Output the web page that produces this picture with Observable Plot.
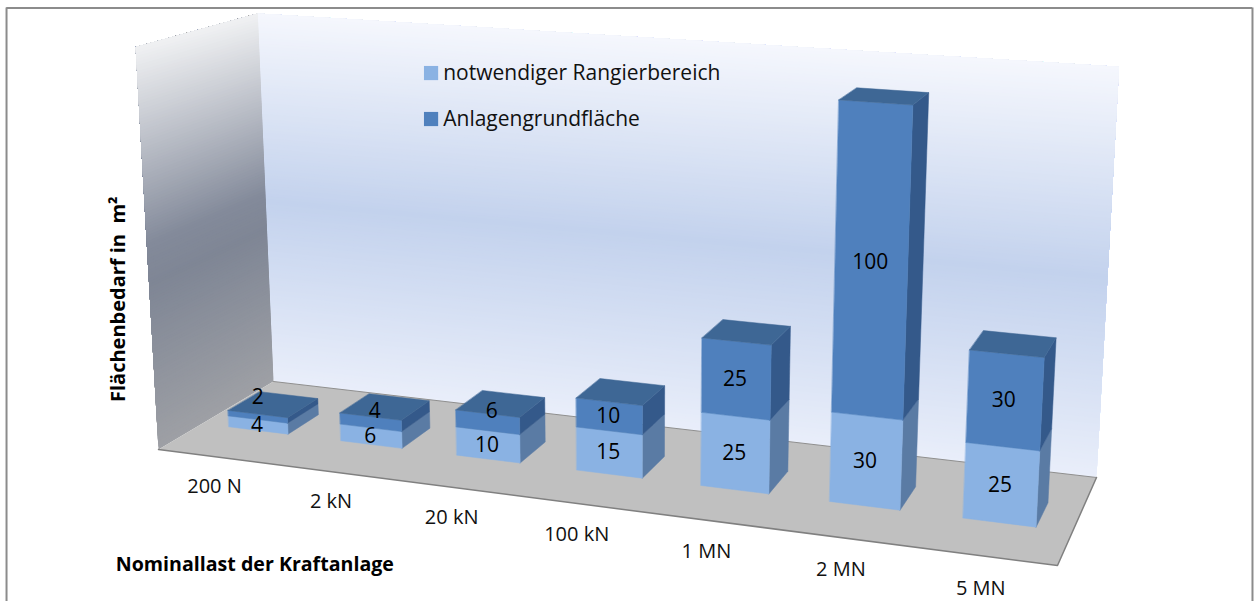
<!DOCTYPE html>
<html><head><meta charset="utf-8">
<script src="https://cdn.jsdelivr.net/npm/d3@7"></script>
<script src="https://cdn.jsdelivr.net/npm/@observablehq/plot@0.6"></script>
<style>html,body{margin:0;padding:0;background:#fff;overflow:hidden}svg{display:block}</style>
</head><body><div id="chart"></div>
<script>
const categories = ["200 N","2 kN","20 kN","100 kN","1 MN","2 MN","5 MN"];
const rangierbereich = [4,6,10,15,25,30,25];
const grundflaeche = [2,4,6,10,25,100,30];
const seriesNames = ["notwendiger Rangierbereich","Anlagengrundfläche"];
const axisMax = 137;

const W = 1256, H = 601;
const FONT = "'Open Sans', Lato, sans-serif";
// camera: floor corners (front-left, front-right, back-right, back-left), vertical vanishing point, wall top
const view = {floor:[[158,449],[1057,565],[1096,477],[273,381]], vanish:[636,8860], wallTopY:13};
const [p0,p1,p2,p3] = view.floor;
const den = (p1[0]-p2[0])*(p3[1]-p2[1])-(p3[0]-p2[0])*(p1[1]-p2[1]);
const sx = p0[0]-p1[0]+p2[0]-p3[0], sy = p0[1]-p1[1]+p2[1]-p3[1];
const g = (sx*(p3[1]-p2[1])-(p3[0]-p2[0])*sy)/den;
const h = ((p1[0]-p2[0])*sy-sx*(p1[1]-p2[1]))/den;
const a = p1[0]-p0[0]+g*p1[0], b = p3[0]-p0[0]+h*p3[0], c = p0[0];
const d = p1[1]-p0[1]+g*p1[1], e = p3[1]-p0[1]+h*p3[1], f = p0[1];
const s = (1+h)*(view.wallTopY-p3[1])/(view.vanish[1]-view.wallTopY);
// u: category position 0..7, v: depth 0..1, z: value in axis units
function project(u,v,z){
  const U=u/categories.length, Z=z/axisMax*s;
  const w=g*U+h*v+1+Z;
  return [(a*U+b*v+c+Z*view.vanish[0])/w,(d*U+e*v+f+Z*view.vanish[1])/w];
}
let pid=0;
function poly(list,corners,fill){
  const id=pid++;
  corners.forEach(q=>{const [x,y]=project(...q);list.push({id,x,y,fill});});
}
const n=categories.length;
const wallPolys=[], barPolys=[];
// walls: painted bottom-up, each band reaching to the wall top, so the gradient follows the perspective
const backStops=d3.scaleLinear().domain([0,0.5,1]).range(["#e9eefa","#c3d2ed","#f5f7fd"]);
const sideStops=d3.scaleLinear().domain([0,0.42,0.52,1]).range(["#9ea0a5","#7f8695","#838a9a","#f0f1f3"]);
const bands=140;
for(let i=0;i<bands;i++){
  const z0=i/bands*axisMax,t=(i+.5)/bands;
  poly(wallPolys,[[0,1,z0],[n,1,z0],[n,1,axisMax],[0,1,axisMax]],d3.color(backStops(t)).formatHex());
  poly(wallPolys,[[0,0,z0],[0,1,z0],[0,1,axisMax],[0,0,axisMax]],d3.color(sideStops(t)).formatHex());
}
poly(wallPolys,[[0,0,0],[n,0,0],[n,1,0],[0,1,0]],"#c0c0c0");
const C={lf:"#8ab2e3",ls:"#5a7ba4",df:"#4f80bd",ds:"#34598a",dt:"#3e6795"};
const barW=.53,v0=.36,v1=.64;
const barU=i=>i+(1-barW)/2-.025+.03*(1-i/6);
categories.forEach((cat,i)=>{
  const u0=barU(i),u1=u0+barW,l=rangierbereich[i],t=l+grundflaeche[i];
  poly(barPolys,[[u1,v0,0],[u1,v1,0],[u1,v1,l],[u1,v0,l]],C.ls);
  poly(barPolys,[[u0,v0,0],[u1,v0,0],[u1,v0,l],[u0,v0,l]],C.lf);
  poly(barPolys,[[u1,v0,l],[u1,v1,l],[u1,v1,t],[u1,v0,t]],C.ds);
  poly(barPolys,[[u0,v0,l],[u1,v0,l],[u1,v0,t],[u0,v0,t]],C.df);
  poly(barPolys,[[u0,v0,t],[u1,v0,t],[u1,v1,t],[u0,v1,t]],C.dt);
});
const edge=[[0,1,0],[n,1,0]].map(q=>project(...q)).map(([x,y])=>({x,y}));
const frontEdge=[[0,0,0],[n,0,0],[n,1,0]].map(q=>project(...q)).map(([x,y])=>({x,y}));
// small upper segments have their labels lifted on to the top face
const lift=v=>v<=2?20:v<10?11:0;
const nudge=v=>v<=2?1:v<10?5:0;
const labels=[];
categories.forEach((cat,i)=>{
  const um=barU(i)+barW/2,l=rangierbereich[i],u=grundflaeche[i];
  const [x1,y1]=project(um,v0,l/2);
  labels.push({x:x1-1,y:y1,text:String(l)});
  const [x2,y2]=project(um,v0,l+u/2);
  labels.push({x:x2-1+nudge(u),y:y2-lift(u),text:String(u)});
});
const ticks=categories.map((text,i)=>{const [x,y]=project(i+.82-.04*i,-.31,0);return {x,y,text};});
const legend=[{name:seriesNames[0],fill:C.lf},{name:seriesNames[1],fill:C.df}];
const lx=W*.3428, lys=[H*.1207,H*.1972];

const chart=Plot.plot({
  width:W,height:H,margin:0,
  x:{domain:[0,W],range:[0,W],axis:null},
  y:{domain:[0,H],range:[0,H],axis:null},
  color:{type:"identity"},
  style:{background:"#fff",fontFamily:FONT},
  marks:[
    Plot.line(wallPolys,{x:"x",y:"y",z:"id",fill:"fill",stroke:null,curve:"linear-closed"}),
    Plot.line(edge,{x:"x",y:"y",stroke:"#8f8f8f",strokeWidth:1}),
    Plot.line(frontEdge,{x:"x",y:"y",stroke:"#808080",strokeWidth:1.5}),
    Plot.line(barPolys,{x:"x",y:"y",z:"id",fill:"fill",stroke:"fill",strokeWidth:.5,curve:"linear-closed"}),
    Plot.text(labels,{x:"x",y:"y",text:"text",fontSize:21,fill:"#000",fontFamily:FONT}),
    Plot.text(ticks,{x:"x",y:"y",text:"text",fontSize:20,fill:"#111",fontFamily:FONT}),
    Plot.dot(legend,{x:()=>lx,y:(q,i)=>lys[i],symbol:"square",r:8,fill:"fill",stroke:null}),
    Plot.text(legend,{x:()=>W*.3525,y:(q,i)=>lys[i],text:"name",textAnchor:"start",fontSize:21,fill:"#111",fontFamily:FONT}),
    Plot.text(["Nominallast der Kraftanlage"],{x:()=>W*.2025,y:()=>H*.9385,text:q=>q,fontSize:19.6,fontWeight:"bold",fill:"#000",fontFamily:FONT}),
    Plot.text(["Flächenbedarf in  m²"],{x:()=>W*.094,y:()=>H*.497,text:q=>q,rotate:-90,fontSize:20,fontWeight:"bold",fill:"#000",fontFamily:FONT}),
    Plot.ruleY([H*.0125],{x1:W*.005,x2:W*.997,stroke:"#8c8c8c",strokeWidth:2}),
    Plot.ruleX([W*.0048,W*.9968],{y1:H*.0125,y2:H,stroke:"#8c8c8c",strokeWidth:2})
  ]
});
document.getElementById("chart").appendChild(chart);
</script></body></html>
